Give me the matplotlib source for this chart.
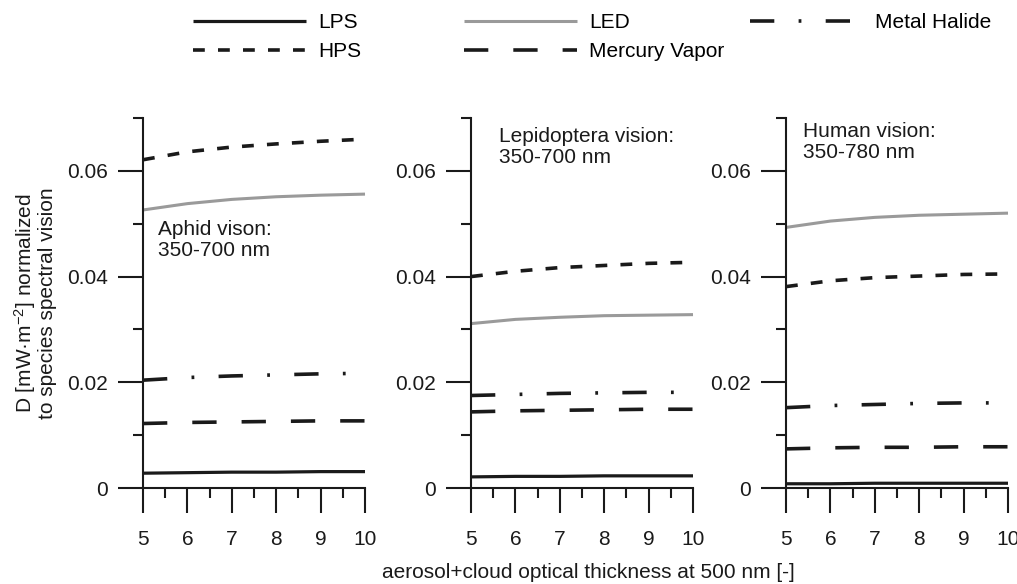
import matplotlib
matplotlib.use('Agg')
import matplotlib.pyplot as plt
from matplotlib.ticker import FixedLocator, FuncFormatter
from matplotlib.lines import Line2D

plt.rcParams['font.family'] = ['Liberation Sans', 'DejaVu Sans']
plt.rcParams['font.size'] = 15
plt.rcParams['lines.scale_dashes'] = False
plt.rcParams['mathtext.fontset'] = 'custom'
plt.rcParams['mathtext.rm'] = 'Liberation Sans'
plt.rcParams['mathtext.it'] = 'Liberation Sans'

# aerosol+cloud optical thickness
aot = [5, 6, 7, 8, 9, 10]

lamps = ['LPS', 'HPS', 'LED', 'Mercury Vapor', 'Metal Halide']

aphid_lps = [0.0028, 0.0029, 0.0030, 0.0030, 0.0031, 0.0031]
aphid_hps = [0.0621, 0.0636, 0.0645, 0.0651, 0.0656, 0.0660]
aphid_led = [0.0526, 0.0538, 0.0546, 0.0551, 0.0554, 0.0556]
aphid_mv = [0.0122, 0.0124, 0.0125, 0.0126, 0.0127, 0.0127]
aphid_mh = [0.0204, 0.0209, 0.0212, 0.0214, 0.0216, 0.0217]

lepi_lps = [0.0021, 0.0022, 0.0022, 0.0023, 0.0023, 0.0023]
lepi_hps = [0.0400, 0.0410, 0.0417, 0.0421, 0.0425, 0.0427]
lepi_led = [0.0311, 0.0319, 0.0323, 0.0326, 0.0327, 0.0328]
lepi_mv = [0.0144, 0.0146, 0.0147, 0.0148, 0.0149, 0.0149]
lepi_mh = [0.0175, 0.0177, 0.0179, 0.0180, 0.0181, 0.0181]

human_lps = [0.0008, 0.0008, 0.0009, 0.0009, 0.0009, 0.0009]
human_hps = [0.0381, 0.0392, 0.0398, 0.0401, 0.0404, 0.0405]
human_led = [0.0493, 0.0505, 0.0512, 0.0516, 0.0518, 0.0520]
human_mv = [0.0074, 0.0076, 0.0077, 0.0077, 0.0078, 0.0078]
human_mh = [0.0152, 0.0156, 0.0158, 0.0160, 0.0161, 0.0161]

panel_titles = ['Aphid vison:\n350-700 nm',
                'Lepidoptera vision:\n350-700 nm',
                'Human vision:\n350-780 nm']

panels = [
    [aphid_lps, aphid_hps, aphid_led, aphid_mv, aphid_mh],
    [lepi_lps, lepi_hps, lepi_led, lepi_mv, lepi_mh],
    [human_lps, human_hps, human_led, human_mv, human_mh],
]

# line styles per lamp: (color, linewidth, dashes in points)
styles = {
    'LPS': dict(color='#1a1a1a', lw=2.3, dashes=None),
    'HPS': dict(color='#1a1a1a', lw=2.6, dashes=(8.5, 9.5)),
    'LED': dict(color='#9a9a9a', lw=2.2, dashes=None),
    'Mercury Vapor': dict(color='#1a1a1a', lw=2.6, dashes=(17.5, 18)),
    'Metal Halide': dict(color='#1a1a1a', lw=2.6, dashes=(17.5, 17.5, 2, 17.5)),
}


def style_kw(name):
    s = styles[name]
    kw = dict(color=s['color'], lw=s['lw'], solid_capstyle='butt')
    if s['dashes'] is not None:
        kw['dashes'] = s['dashes']
        kw['dash_capstyle'] = 'butt'
    return kw


fig = plt.figure(figsize=(10.17, 5.84), dpi=100)

lefts = [143 / 1017, 471 / 1017, 786 / 1017]
bottom = (584 - 488) / 584
height = (488 - 118) / 584
width = 222 / 1017
# centre of each two-line panel note, in pixels
text_pos = [(158, 240), (499, 147), (803, 142)]

for i, (left, series) in enumerate(zip(lefts, panels)):
    ax = fig.add_axes([left, bottom, width, height])
    for name, vals in zip(lamps, series):
        ax.plot(aot, vals, clip_on=False, **style_kw(name))
    ax.set_xlim(5, 10)
    ax.set_ylim(0, 0.07)
    for sp in ['top', 'right']:
        ax.spines[sp].set_visible(False)
    for sp in ['left', 'bottom']:
        ax.spines[sp].set_linewidth(1.5)
        ax.spines[sp].set_color('#1a1a1a')
    ax.xaxis.set_major_locator(FixedLocator([5, 6, 7, 8, 9, 10]))
    ax.xaxis.set_minor_locator(FixedLocator([5.5, 6.5, 7.5, 8.5, 9.5]))
    ax.yaxis.set_major_locator(FixedLocator([0, 0.02, 0.04, 0.06]))
    ax.yaxis.set_minor_locator(FixedLocator([0.01, 0.03, 0.05, 0.07]))
    ax.yaxis.set_major_formatter(FuncFormatter(lambda v, p: '%g' % round(v, 3)))
    ax.tick_params(which='major', direction='out', length=18, width=1.5,
                   color='#1a1a1a', labelsize=15, labelcolor='#1a1a1a')
    ax.tick_params(which='minor', direction='out', length=7.5, width=1.5,
                   color='#1a1a1a')
    ax.tick_params(axis='x', which='major', pad=12)
    ax.tick_params(axis='y', which='major', pad=7)
    tx, ty = text_pos[i]
    fig.text(tx / 1017, 1 - ty / 584, panel_titles[i], ha='left', va='center',
             fontsize=15, color='#1a1a1a', linespacing=1.15)
    ax.patch.set_visible(False)

fig.text(25 / 1017, 1 - 303 / 584, 'D [mW·m$^{-2}$] normalized',
         rotation=90, ha='center', va='center', fontsize=15, color='#1a1a1a')
fig.text(48 / 1017, 1 - 303 / 584, 'to species spectral vision',
         rotation=90, ha='center', va='center', fontsize=15, color='#1a1a1a')
fig.text(588 / 1017, 1 - 573 / 584,
         'aerosol+cloud optical thickness at 500 nm [-]',
         ha='center', va='center', fontsize=15, color='#1a1a1a')

# legend: three column groups placed like the original
groups = [(['LPS', 'HPS'], 193), (['LED', 'Mercury Vapor'], 464),
          (['Metal Halide'], 750)]
for names, x0 in groups:
    handles = [Line2D([], [], **style_kw(n)) for n in names]
    fig.legend(handles, names, loc='upper left',
               bbox_to_anchor=(x0 / 1017, 1 - 13 / 584),
               frameon=False, borderpad=0, borderaxespad=0,
               handlelength=5.4, handletextpad=0.6, labelspacing=0.5,
               fontsize=15)

fig.savefig('out.png', dpi=100)
